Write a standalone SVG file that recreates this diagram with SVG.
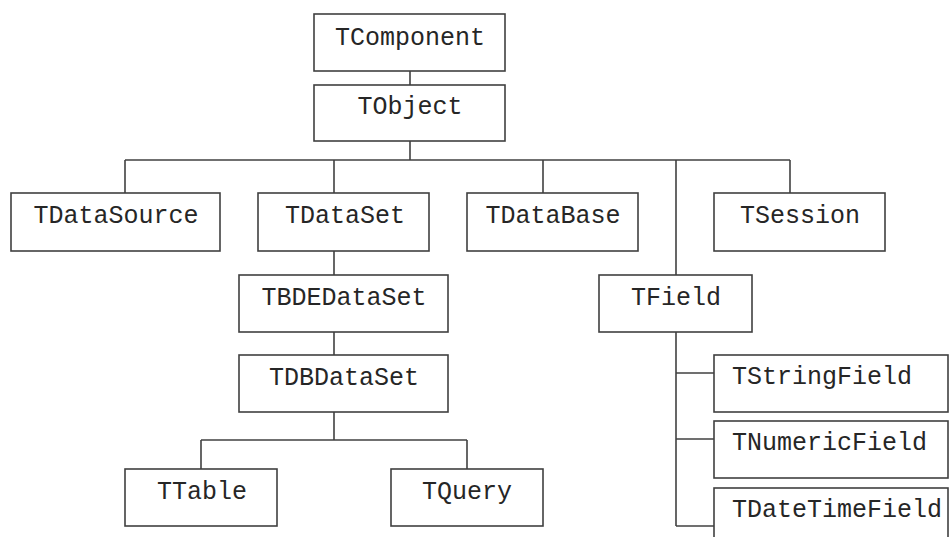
<svg xmlns="http://www.w3.org/2000/svg" width="950" height="537" viewBox="0 0 950 537">
<style>
.box{fill:#fff;stroke:#404040;stroke-width:1.6}
.t{font-family:"Liberation Mono","Courier New",monospace;font-size:25px;fill:#262626}
.c{text-anchor:middle}
.conn{fill:none;stroke:#404040;stroke-width:1.6}
</style>
<rect width="950" height="537" fill="#fff"/>
<g id="connectors" class="conn">
<path d="M410 71V85"/>
<path d="M410 141V160"/>
<path d="M125 160H790"/>
<path d="M125 160V193"/>
<path d="M334 160V193"/>
<path d="M543 160V193"/>
<path d="M790 160V193"/>
<path d="M676 160V275"/>
<path d="M334 251V275"/>
<path d="M334 332V355"/>
<path d="M334 412V440"/>
<path d="M201 440H467"/>
<path d="M201 440V470"/>
<path d="M467 440V469"/>
<path d="M676 332V526"/>
<path d="M676 373H714"/>
<path d="M676 439H714"/>
<path d="M676 526H714"/>
</g>
<g id="TComponent"><rect class="box" x="314" y="14" width="191" height="57"/><text class="t c" x="410" y="45">TComponent</text></g>
<g id="TObject"><rect class="box" x="314" y="85" width="191" height="56"/><text class="t c" x="410" y="114">TObject</text></g>
<g id="TDataSource"><rect class="box" x="11" y="193" width="209" height="58"/><text class="t c" x="116" y="223">TDataSource</text></g>
<g id="TDataSet"><rect class="box" x="258" y="193" width="171" height="58"/><text class="t c" x="345" y="223">TDataSet</text></g>
<g id="TDataBase"><rect class="box" x="467" y="193" width="171" height="58"/><text class="t c" x="553" y="223">TDataBase</text></g>
<g id="TSession"><rect class="box" x="714" y="193" width="171" height="58"/><text class="t c" x="800" y="223">TSession</text></g>
<g id="TBDEDataSet"><rect class="box" x="239" y="275" width="209" height="57"/><text class="t c" x="344" y="305">TBDEDataSet</text></g>
<g id="TDBDataSet"><rect class="box" x="239" y="355" width="209" height="57"/><text class="t c" x="344" y="385">TDBDataSet</text></g>
<g id="TTable"><rect class="box" x="125" y="469" width="152" height="57"/><text class="t c" x="202" y="499">TTable</text></g>
<g id="TQuery"><rect class="box" x="391" y="469" width="152" height="57"/><text class="t c" x="467" y="499">TQuery</text></g>
<g id="TField"><rect class="box" x="599" y="275" width="153" height="57"/><text class="t c" x="676" y="305">TField</text></g>
<g id="TStringField"><rect class="box" x="714" y="355" width="234" height="57"/><text class="t" x="732" y="384">TStringField</text></g>
<g id="TNumericField"><rect class="box" x="714" y="421" width="234" height="57"/><text class="t" x="732" y="450">TNumericField</text></g>
<g id="TDateTimeField"><rect class="box" x="714" y="488" width="234" height="60"/><text class="t" x="732" y="517">TDateTimeField</text></g>
</svg>
